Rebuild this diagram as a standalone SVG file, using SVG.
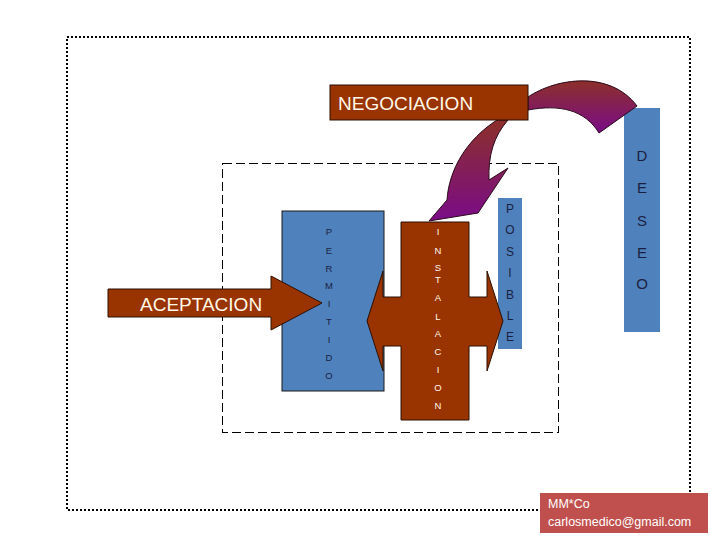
<svg xmlns="http://www.w3.org/2000/svg" width="720" height="540" viewBox="0 0 720 540">
<style>
.brown{fill:#993300;stroke:#2a1000;stroke-width:1}
.blue{fill:#4F81BD}
.wt{fill:#FFF8E6;font-family:"Liberation Sans",Arial,sans-serif}
.sm{font-family:"Liberation Sans",Arial,sans-serif;font-size:9.5px;text-anchor:middle}
.nv{fill:#1b1f3f}
.md{font-family:"Liberation Sans",Arial,sans-serif;font-size:12px;text-anchor:middle;fill:#1b1f3f}
.lg{font-family:"Liberation Sans",Arial,sans-serif;font-size:15px;text-anchor:middle;fill:#1b1f3f}
</style>
<defs>
<linearGradient id="g1" x1="0" y1="0" x2="0" y2="1">
<stop offset="0" stop-color="#8c2f2a"/>
<stop offset="1" stop-color="#7a0c88"/>
</linearGradient>
</defs>
<rect width="720" height="540" fill="#fff"/>
<g id="frames" fill="none" shape-rendering="crispEdges">
<rect x="67" y="37" width="623" height="473" stroke="#000" stroke-width="2" stroke-dasharray="2,2"/>
<rect x="222.5" y="163.5" width="336" height="269" stroke="#000" stroke-width="1.3" stroke-dasharray="9,4"/>
</g>
<g id="permitido">
<rect x="282" y="211" width="102" height="180" class="blue" stroke="#1a1a1a" stroke-width="1"/>
<g class="sm nv">
<text x="329" y="235">P</text><text x="329" y="254">E</text><text x="329" y="272">R</text><text x="329" y="289">M</text><text x="329" y="307">I</text><text x="329" y="325">T</text><text x="329" y="343">I</text><text x="329" y="361">D</text><text x="329" y="379">O</text>
</g>
</g>
<g id="posible">
<rect x="498" y="198" width="24" height="151" class="blue"/>
<g class="md">
<text x="510" y="213">P</text><text x="510" y="234">O</text><text x="510" y="256">S</text><text x="510" y="277">I</text><text x="510" y="299">B</text><text x="510" y="320">L</text><text x="510" y="341">E</text>
</g>
</g>
<g id="deseo">
<rect x="624" y="108" width="36" height="224" class="blue"/>
<g class="lg">
<text x="642" y="161">D</text><text x="642" y="193">E</text><text x="642" y="226">S</text><text x="642" y="258">E</text><text x="642" y="289">O</text>
</g>
</g>
<g id="connectors">
<path d="M528,97 C556,78 610,70 637,106 L599,133 C585,110 560,104 528,110 Z" fill="url(#g1)" stroke="#2a0a1a" stroke-width="1"/>
<path d="M497,120 C466,140 449,170 447,200 L429,221 L478,213 L508,168 L489,180 C488,155 494,136 508,120 Z" fill="url(#g1)" stroke="#2a0a1a" stroke-width="1"/>
</g>
<g id="aceptacion">
<path d="M108,289 L271,289 L271,276 L322,303 L271,330 L271,317 L108,317 Z" class="brown"/>
<text x="140" y="311" class="wt" font-size="19">ACEPTACION</text>
</g>
<g id="instalacion">
<path d="M401,222 L469,222 L469,297 L487,297 L487,271 L503,321 L487,371 L487,346 L469,346 L469,420 L401,420 L401,346 L383,346 L383,371 L367,321 L383,271 L383,297 L401,297 Z" class="brown"/>
<g class="sm" fill="#FFF8E6">
<text x="438" y="235">I</text><text x="438" y="254">N</text><text x="438" y="271">S</text><text x="438" y="283">T</text><text x="438" y="301">A</text><text x="438" y="320">L</text><text x="438" y="337">A</text><text x="438" y="355">C</text><text x="438" y="373">I</text><text x="438" y="391">O</text><text x="438" y="409">N</text>
</g>
</g>
<g id="negociacion">
<rect x="330" y="85" width="198" height="35" class="brown"/>
<text x="338" y="110" class="wt" font-size="19">NEGOCIACION</text>
</g>
<g id="footer">
<rect x="540" y="493" width="168" height="40" fill="#C0504D"/>
<text x="548" y="508" fill="#fff" font-family="Liberation Sans,Arial,sans-serif" font-size="12.5">MM*Co</text>
<text x="548" y="526" fill="#fff" font-family="Liberation Sans,Arial,sans-serif" font-size="12.5">carlosmedico@gmail.com</text>
</g>
</svg>
